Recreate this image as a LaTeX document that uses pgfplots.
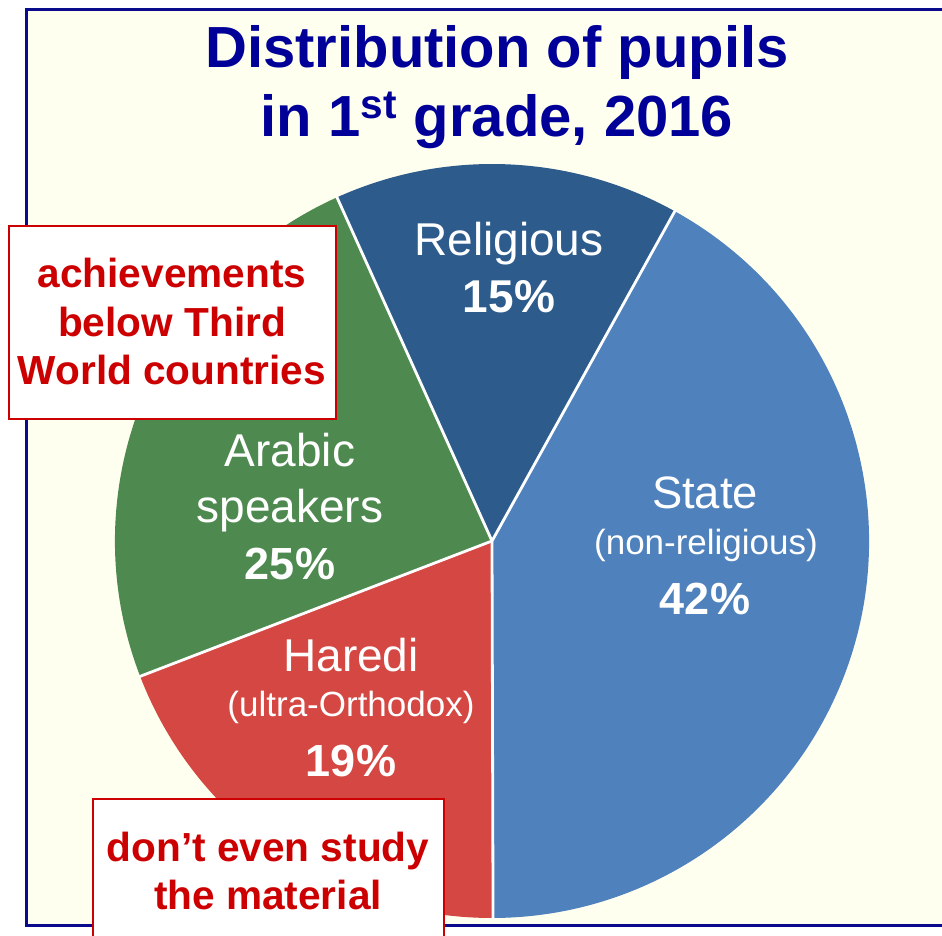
\documentclass[border=0pt]{standalone}
\usepackage{pgfplots}
\pgfplotsset{compat=1.18}
\usepackage{pgfplotstable}
\usepackage{fontspec}
\setmainfont{Liberation Sans}
\definecolor{stateblue}{RGB}{79,129,189}
\definecolor{relblue}{RGB}{44,91,140}
\definecolor{arabgreen}{RGB}{78,138,80}
\definecolor{haredired}{RGB}{213,71,66}
\definecolor{titleblue}{RGB}{0,0,153}
\definecolor{boxred}{RGB}{204,0,0}
\definecolor{bgcream}{RGB}{255,255,240}
\definecolor{framenavy}{RGB}{10,10,140}

% share of the pie (measured from the slice angles) and printed label
\pgfplotstableread{
name share label
State 41.9 42
Haredi 19.2 19
Arabic 24.1 25
Religious 14.8 15
}\pietable

\begin{document}
\begin{tikzpicture}
\pgfplotstablegetelem{0}{share}\of\pietable \pgfmathsetmacro\sS{\pgfplotsretval}
\pgfplotstablegetelem{1}{share}\of\pietable \pgfmathsetmacro\sH{\pgfplotsretval}
\pgfplotstablegetelem{2}{share}\of\pietable \pgfmathsetmacro\sA{\pgfplotsretval}
\pgfplotstablegetelem{3}{share}\of\pietable \pgfmathsetmacro\sR{\pgfplotsretval}
\pgfmathsetmacro\aA{61}
\pgfmathsetmacro\aB{\aA-3.6*\sS}
\pgfmathsetmacro\aC{\aB-3.6*\sH}
\pgfmathsetmacro\aD{\aC-3.6*\sA}
\pgfmathsetmacro\aE{\aD-3.6*\sR}
\pgfplotstablegetelem{0}{label}\of\pietable \edef\lS{\pgfplotsretval}
\pgfplotstablegetelem{1}{label}\of\pietable \edef\lH{\pgfplotsretval}
\pgfplotstablegetelem{2}{label}\of\pietable \edef\lA{\pgfplotsretval}
\pgfplotstablegetelem{3}{label}\of\pietable \edef\lR{\pgfplotsretval}
\path[use as bounding box] (0,0) rectangle (471pt,468pt);
\clip (0,0) rectangle (471pt,468pt);
\fill[white] (0,0) rectangle (471pt,468pt);
\begin{axis}[
  at={(0,0)}, anchor=south west,
  x=0.5pt, y=0.5pt, scale only axis,
  xmin=0, xmax=942, ymin=0, ymax=936,
  hide axis, clip=false,
]
% frame
\draw[framenavy, line width=1.5pt, fill=bgcream] (axis cs:26,10) rectangle (axis cs:990,926);
% title
\node[anchor=base, inner sep=0, text=titleblue, font=\fontsize{29}{35}\selectfont\bfseries] at (axis cs:497,868) {Distribution of pupils};
\node[anchor=base, inner sep=0, text=titleblue, font=\fontsize{29}{35}\selectfont\bfseries] at (axis cs:497,799) {in 1\textsuperscript{st} grade, 2016};
% slices
\fill[stateblue] (axis cs:492,395) -- ++(\aA:188.5pt) arc[start angle=\aA, end angle=\aB, radius=188.5pt] -- cycle;
\fill[haredired] (axis cs:492,395) -- ++(\aB:188.5pt) arc[start angle=\aB, end angle=\aC, radius=188.5pt] -- cycle;
\fill[arabgreen] (axis cs:492,395) -- ++(\aC:188.5pt) arc[start angle=\aC, end angle=\aD, radius=188.5pt] -- cycle;
\fill[relblue] (axis cs:492,395) -- ++(\aD:188.5pt) arc[start angle=\aD, end angle=\aE, radius=188.5pt] -- cycle;
\draw[white, line width=1.4pt] (axis cs:492,395) -- ++(\aA:189pt);
\draw[white, line width=1.4pt] (axis cs:492,395) -- ++(\aB:189pt);
\draw[white, line width=1.4pt] (axis cs:492,395) -- ++(\aC:189pt);
\draw[white, line width=1.4pt] (axis cs:492,395) -- ++(\aD:189pt);
% slice labels
\node[anchor=base, inner sep=0, text=white, font=\fontsize{23}{27}\selectfont] at (axis cs:509,680) {Religious};
\node[anchor=base, inner sep=0, text=white, font=\fontsize{23}{27}\selectfont\bfseries] at (axis cs:509,623) {\lR\%};
\node[anchor=base, inner sep=0, text=white, font=\fontsize{22.7}{27}\selectfont] at (axis cs:705,427) {State};
\node[anchor=base, inner sep=0, text=white, font=\fontsize{17.5}{21}\selectfont] at (axis cs:706,381) {(non-religious)};
\node[anchor=base, inner sep=0, text=white, font=\fontsize{22.5}{27}\selectfont\bfseries] at (axis cs:705,321) {\lS\%};
\node[anchor=base, inner sep=0, text=white, font=\fontsize{23}{27}\selectfont] at (axis cs:290,469) {Arabic};
\node[anchor=base, inner sep=0, text=white, font=\fontsize{23}{27}\selectfont] at (axis cs:290,413) {speakers};
\node[anchor=base, inner sep=0, text=white, font=\fontsize{22.5}{27}\selectfont\bfseries] at (axis cs:290,356) {\lA\%};
\node[anchor=base, inner sep=0, text=white, font=\fontsize{23}{27}\selectfont] at (axis cs:351,264) {Haredi};
\node[anchor=base, inner sep=0, text=white, font=\fontsize{17.5}{21}\selectfont] at (axis cs:351,219) {(ultra-Orthodox)};
\node[anchor=base, inner sep=0, text=white, font=\fontsize{22.5}{27}\selectfont\bfseries] at (axis cs:351,159) {\lH\%};
% annotation boxes
\draw[boxred, line width=1pt, fill=white] (axis cs:9,517) rectangle (axis cs:336,710);
\node[anchor=base, inner sep=0, text=boxred, font=\fontsize{20.3}{24}\selectfont\bfseries] at (axis cs:172,648) {achievements};
\node[anchor=base, inner sep=0, text=boxred, font=\fontsize{20.3}{24}\selectfont\bfseries] at (axis cs:172,599) {below Third};
\node[anchor=base, inner sep=0, text=boxred, font=\fontsize{20.3}{24}\selectfont\bfseries] at (axis cs:172,551) {World countries};
\draw[boxred, line width=1pt, fill=white] (axis cs:93,-20) rectangle (axis cs:444,137);
\node[anchor=base, inner sep=0, text=boxred, font=\fontsize{20.3}{24}\selectfont\bfseries] at (axis cs:268,74) {don’t even study};
\node[anchor=base, inner sep=0, text=boxred, font=\fontsize{20.3}{24}\selectfont\bfseries] at (axis cs:268,26) {the material};
\end{axis}
\end{tikzpicture}
\end{document}
